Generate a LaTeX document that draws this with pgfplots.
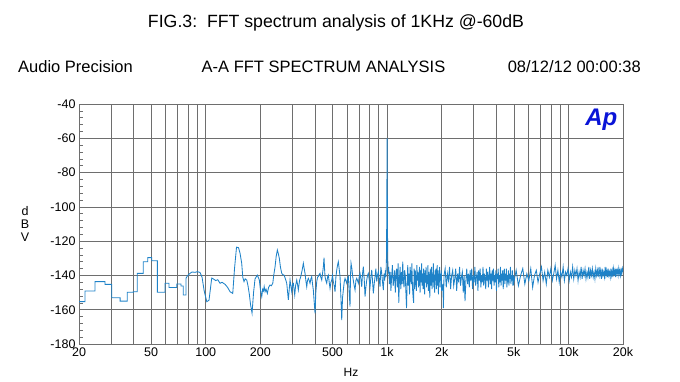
\documentclass[border=0pt]{standalone}
\usepackage{fontspec}
\setmainfont{Liberation Sans}
\usepackage{pgfplots}
\pgfplotsset{compat=1.18}
\definecolor{fftblue}{RGB}{30,130,200}
\definecolor{gridgray}{RGB}{110,110,110}
\definecolor{apblue}{RGB}{10,20,215}
\begin{document}
\begin{tikzpicture}[x=1pt,y=1pt]
\useasboundingbox (0,0) rectangle (680,382);
\node at (336,359) {\fontsize{17.7}{20}\selectfont FIG.3:\ \ FFT spectrum analysis of 1KHz @-60dB};
\node[anchor=west,inner sep=0] at (18,315) {\fontsize{16.5}{18}\selectfont Audio Precision};
\node[inner sep=0] at (323.5,315) {\fontsize{16.5}{18}\selectfont A-A FFT SPECTRUM ANALYSIS};
\node[anchor=east,inner sep=0] at (641,315) {\fontsize{16.5}{18}\selectfont 08/12/12 00:00:38};
\node[align=center,inner sep=0,font=\fontsize{12.5}{13}\selectfont] at (25,158) {d\\B\\V};
\begin{semilogxaxis}[
  at={(79pt,38pt)}, anchor=south west,
  width=544pt, height=240pt, scale only axis,
  xmin=20, xmax=20000, ymin=-180, ymax=-40,
  /pgf/number format/assume math mode=true,
  ticklabel style={font=\fontsize{12.5}{13}\selectfont},
  ytick={-180,-160,-140,-120,-100,-80,-60,-40},
  yticklabels={-180,-160,-140,-120,-100,-80,-60,-40},
  minor y tick num=4,
  xtick={20,50,100,200,500,1000,2000,5000,10000,20000},
  xticklabels={20,50,100,200,500,1k,2k,5k,10k,20k},
  minor xtick={30,40,60,70,80,90,300,400,600,700,800,900,3000,4000,6000,7000,8000,9000},
  xmajorgrids=true, xminorgrids=true, ymajorgrids=true,
  major grid style={gridgray, line width=0.6pt},
  minor grid style={gridgray, line width=0.6pt},
  axis line style={gridgray, line width=0.6pt},
  tick style={gridgray, line width=0.6pt},
  tick align=inside, xtick pos=bottom, ytick pos=left,
  minor tick length=4pt, major tick length=0pt,
  xlabel={Hz}, xlabel style={font=\fontsize{12}{13}\selectfont, yshift=-5pt},
]
\addplot[fftblue, line width=0.85pt] coordinates {
(20,-155.3) (21.6,-155.3) (21.6,-149.1) (24.5,-149.1) (24.5,-143.6) (27.8,-143.6) (27.8,-145.2) (30.3,-145.2) (30.3,-153) (33.7,-153) (33.7,-155) (36.9,-155) (36.9,-149.8) (39.9,-149.8) (39.9,-149.5) (41.9,-149.5) (41.9,-138.8) (45.2,-138.8) (45.2,-132) (47.9,-132) (47.9,-129.6) (50.4,-129.6) (50.4,-131.4) (54.1,-131.4) (54.1,-149.8) (59.6,-149.8) (59.6,-144.6) (62.7,-144.6) (62.7,-147) (69.2,-147) (69.2,-145) (73.0,-145) (73.0,-146.2) (75.2,-146.2) (75.2,-151.4) (77.8,-151.4) (77.8,-141.7)
(79.5,-140) (81.9,-138.8) (84,-138.0) (87.3,-138.2) (90,-137.8) (93.0,-138.3) (95.4,-141) (98,-149) (101.3,-155.3) (104.2,-154.5) (107.9,-141.5) (110,-142) (113.5,-143) (116.5,-142.5) (119.9,-144.6) (123,-144) (127.8,-145.2) (132,-147) (136.1,-149.5) (140.9,-150.5) (144.1,-136) (147.8,-123.5) (151.6,-123.8) (154.5,-127) (157.9,-133) (160,-141) (162.6,-143.6) (165,-142) (168.3,-142.7) (171,-146) (173.9,-151) (176.6,-157) (180.0,-162) (183.5,-150) (187.0,-142) (192.5,-139.8) (197.5,-142.7) (200,-148) (203.6,-152.4) (206,-148) (208.2,-149) (210,-146.5) (212.4,-149.5) (215,-148) (218.6,-150.5) (222,-147) (226.2,-145.6) (230,-146) (234.2,-144.6) (237,-140) (241.1,-134.9) (244.5,-129) (248.2,-125.2) (251,-127) (254.6,-130.1) (258,-135) (262.4,-138.8) (266,-139.5) (270.2,-139.8) (275,-142) (279.7,-144.6) (285.4,-154.3)
(291.6,-142.7) (294.5,-146) (298.0,-149.5) (301,-145) (304.1,-144.6) (306.8,-148) (309.5,-151.4) (313,-146) (317.5,-142.7) (320.5,-145) (324.0,-148.5) (329,-143) (334.1,-140.7) (340,-137) (345.3,-132.9) (349,-136) (352.8,-138.8) (356.5,-143) (360.5,-146.6) (364,-143) (367.9,-141.7) (372,-143) (375.9,-144.6) (380,-142) (384.1,-140.7) (388,-145) (392.0,-148.5) (396,-155) (400.6,-162.1) (404.5,-150) (409.3,-143.6) (413.5,-141) (417.7,-140.7) (422,-139.5) (426.8,-138.8) (431,-141) (436.1,-142.7) (440.5,-139) (445.1,-135) (449,-129.7) (452,-136) (454.8,-140.7) (459.5,-143) (464.7,-144.6) (469.5,-141) (474.3,-139.8) (479.5,-144) (484.6,-147.6) (490,-144) (495.2,-142.7) (500,-140) (505.3,-143.6) (511,-146) (516.4,-149.5) (522,-141) (527.7,-136.8) (533,-134) (538.5,-132) (544,-136) (550.2,-140.7) (556,-152) (562.2,-166) (568,-153) (573.8,-148.5) (580,-144) (586.3,-141.7) (592.5,-143) (599.1,-144.6) (605,-142) (611.4,-140.7) (618,-150) (624.7,-158.2) (628.5,-140) (632.7,-132.9) (639.5,-136) (646.5,-140.7) (656,-145) (665.7,-148.5) (673,-143) (680.2,-141.7) (687,-143) (694.2,-144.6) (701.5,-141) (709.3,-138.8) (717,-142) (724.8,-146.6) (732,-139) (739.7,-134.9) (748,-142) (755.8,-152.4) (764,-147) (772.3,-142.7) (780,-140) (788.1,-138.8) (796,-142) (805.3,-146.6) (814,-141) (822.9,-136.8) (831,-143) (839.8,-150.5) (849,-145) (858.1,-140.7) (867,-136) (876.8,-143.6) (885,-140) (894.8,-137.8) (904,-142) (914.4,-146.6) (924,-135) (934.3,-138.8) (944,-144) (953.5,-148.5) (962,-139) (970,-143) (978,-137) (985,-141) (992,-130) (996,-105) (1000,-60) (1004,-105) (1008,-130) (1015,-139)
(1020,-135) (1030,-145) (1040,-138) (1050,-149) (1060,-140) (1070,-134) (1080,-146) (1090,-143) (1100,-137) (1110,-150) (1120,-139) (1130,-136) (1140,-147) (1150,-133) (1160,-156) (1170,-142) (1180,-135) (1190,-148) (1200,-138) (1210,-145) (1220,-132) (1230,-143) (1240,-147) (1250,-137) (1260,-140) (1270,-150) (1280,-159) (1290,-144) (1300,-134) (1310,-146) (1320,-139) (1330,-151) (1340,-135) (1350,-141) (1360,-145) (1370,-133) (1380,-147) (1390,-152) (1400,-156) (1410,-136) (1420,-148) (1430,-137) (1440,-142) (1450,-149) (1460,-134) (1470,-143) (1480,-138) (1490,-147) (1500,-140) (1510,-135) (1520,-150) (1530,-137) (1540,-144) (1550,-133) (1560,-146) (1570,-139) (1580,-148) (1590,-136) (1600,-142) (1610,-151) (1620,-137) (1630,-144) (1640,-135) (1650,-147) (1660,-140) (1670,-145) (1680,-134) (1690,-149) (1700,-138) (1710,-143) (1720,-153) (1730,-136) (1740,-141) (1750,-146) (1760,-135) (1770,-148) (1780,-139) (1790,-144) (1800,-133) (1810,-147) (1820,-140) (1830,-150) (1840,-137) (1850,-143) (1860,-136) (1870,-148) (1880,-141) (1890,-134) (1900,-146) (1910,-139) (1920,-151) (1930,-137) (1940,-144) (1950,-135) (1960,-147) (1970,-140) (1980,-143) (1990,-137) (2000,-149)
(2030,-145) (2045,-159) (2060,-140) (2090,-136) (2120,-147) (2150,-139) (2180,-143) (2210,-135) (2240,-148) (2270,-140) (2300,-137) (2330,-146) (2360,-142) (2390,-136) (2420,-149) (2450,-139) (2480,-144) (2510,-135) (2540,-146) (2570,-141) (2600,-138) (2630,-150) (2660,-140) (2690,-155) (2720,-143) (2750,-136) (2780,-145) (2810,-139) (2840,-147) (2870,-137) (2900,-143) (2930,-136) (2960,-148) (2990,-140) (3020,-144) (3050,-135) (3080,-146) (3110,-141) (3140,-138) (3170,-149) (3200,-137) (3230,-143) (3260,-136) (3290,-147) (3320,-140) (3350,-144) (3380,-135) (3410,-146) (3440,-139) (3470,-142) (3500,-148) (3530,-136) (3560,-143) (3590,-138) (3620,-147) (3650,-141) (3680,-135) (3710,-145) (3740,-139) (3770,-148) (3800,-137) (3830,-143) (3860,-136) (3890,-146) (3920,-140) (3950,-144) (3980,-137) (4010,-149) (4040,-139) (4070,-142) (4100,-136) (4130,-147) (4160,-140) (4190,-144) (4220,-135) (4250,-146) (4280,-139) (4310,-143) (4340,-137) (4370,-148) (4400,-140) (4430,-136) (4460,-145) (4490,-139) (4520,-143) (4550,-136) (4580,-147) (4610,-140) (4640,-144) (4670,-137) (4700,-146) (4730,-139) (4760,-142) (4790,-135) (4820,-145) (4850,-140) (4880,-143) (4910,-137) (4940,-146) (4970,-140) (5000,-144)
(5150,-137) (5300,-146) (5450,-140) (5600,-136) (5750,-145) (5900,-139) (6050,-143) (6200,-136) (6350,-147) (6500,-140) (6650,-137) (6800,-144) (6950,-139) (7100,-135) (7250,-143) (7400,-138) (7550,-145) (7700,-137) (7850,-141) (8000,-136) (8150,-143) (8300,-139) (8450,-134) (8600,-142) (8750,-137) (8900,-144) (9050,-138) (9200,-141) (9350,-135) (9500,-143) (9650,-138) (9800,-140) (9950,-136) (10100,-143) (10250,-138) (10400,-141) (10550,-135) (10700,-142) (10850,-137) (11000,-140) (11150,-136) (11300,-143) (11450,-138) (11600,-141) (11750,-135) (11900,-142) (12050,-137) (12200,-140) (12350,-136) (12500,-142) (12650,-138) (12800,-141) (12950,-135) (13100,-142) (13250,-137) (13400,-140) (13550,-136) (13700,-141) (13850,-138) (14000,-142) (14150,-136) (14300,-140) (14450,-137) (14600,-141) (14750,-135) (14900,-140) (15050,-137) (15200,-142) (15350,-136) (15500,-140) (15650,-138) (15800,-141) (15950,-135) (16100,-140) (16250,-137) (16400,-141) (16550,-136) (16700,-140) (16850,-138) (17000,-141) (17150,-136) (17300,-140) (17450,-137) (17600,-141) (17750,-136) (17900,-139) (18050,-137) (18200,-141) (18350,-136) (18500,-139) (18650,-137) (18800,-140) (18950,-136) (19100,-139) (19250,-137) (19400,-140) (19550,-137) (19700,-139) (19850,-136) (20000,-138)
};
\node[anchor=east, text=apblue, inner sep=0] at (axis description cs:0.99,0.935) {\fontsize{24}{26}\selectfont\bfseries\itshape Ap};
\end{semilogxaxis}
\end{tikzpicture}
\end{document}
